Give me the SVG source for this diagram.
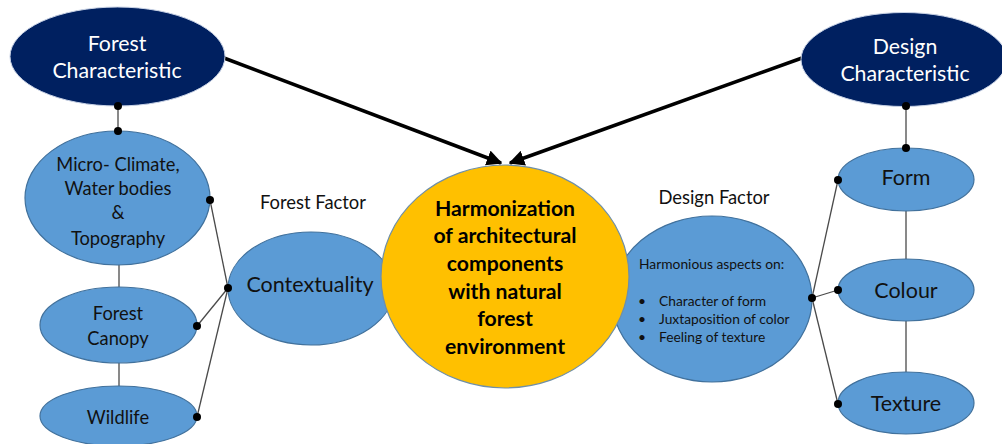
<svg xmlns="http://www.w3.org/2000/svg" width="1002" height="444" viewBox="0 0 1002 444">
  <defs>
    <style>
      text { font-family: Lato, "Open Sans", "Liberation Sans", sans-serif; text-anchor: middle; dominant-baseline: central; }
      .navy { fill: #002060; stroke: #c9d3e6; stroke-width: 1; }
      .blue { fill: #5B9BD5; stroke: #41719C; stroke-width: 1.2; }
      .core { fill: #FFC000; stroke: #6f8fa8; stroke-width: 1.2; }
      .light { fill: #ffffff; font-size: 21.3px; }
      .lbl { fill: #111111; font-size: 18.3px; }
      .big { fill: #111111; font-size: 21.5px; }
      .cap { fill: #111111; font-size: 18.4px; }
      .core-t { fill: #000000; font-size: 21.2px; font-weight: bold; }
      .small { fill: #111111; font-size: 13.8px; text-anchor: start; }
      .link { stroke: #4a4a4a; stroke-width: 1.3; fill: none; }
      .main { stroke: #000000; stroke-width: 3.5; fill: none; marker-end: url(#arrow); }
      .dot { fill: #000000; }
    </style>
    <marker id="arrow" viewBox="0 0 10 10" refX="9" refY="5" markerWidth="4.5" markerHeight="4.5" orient="auto" markerUnits="strokeWidth">
      <path d="M0,0 L10,5 L0,10 z" fill="#000000"/>
    </marker>
  </defs>
  <rect width="1002" height="444" fill="#ffffff"/>

  <!-- thin connectors and main arrows -->
  <g id="connectors">
    <line class="link" x1="118" y1="106" x2="118" y2="131"/>
    <line class="link" x1="119" y1="265" x2="119" y2="287"/>
    <line class="link" x1="119" y1="363" x2="119" y2="386"/>
    <line class="link" x1="228" y1="288" x2="210" y2="200"/>
    <line class="link" x1="228" y1="288" x2="197" y2="326"/>
    <line class="link" x1="228" y1="288" x2="197" y2="417"/>
    <line class="link" x1="906" y1="106" x2="906" y2="148"/>
    <line class="link" x1="906" y1="211" x2="906" y2="259"/>
    <line class="link" x1="906" y1="321" x2="906" y2="372"/>
    <line class="link" x1="812" y1="298" x2="838" y2="180"/>
    <line class="link" x1="812" y1="298" x2="838" y2="290"/>
    <line class="link" x1="812" y1="298" x2="838" y2="404"/>
    <line class="main" x1="224" y1="58" x2="501" y2="163"/>
    <line class="main" x1="802" y1="58" x2="510" y2="163"/>
  </g>

  <g id="forest-characteristic">
    <ellipse class="navy" cx="117.5" cy="56.5" rx="107.5" ry="49.5"/>
    <text class="light" x="117" y="43">Forest</text>
    <text class="light" x="117" y="70">Characteristic</text>
  </g>

  <g id="design-characteristic">
    <ellipse class="navy" cx="904" cy="59.5" rx="103" ry="47"/>
    <text class="light" x="905" y="46">Design</text>
    <text class="light" x="905" y="73">Characteristic</text>
  </g>

  <g id="micro-climate">
    <ellipse class="blue" cx="117.5" cy="198" rx="92.5" ry="67"/>
    <text class="lbl" x="118" y="164">Micro- Climate,</text>
    <text class="lbl" x="118" y="188">Water bodies</text>
    <text class="lbl" x="118" y="212">&amp;</text>
    <text class="lbl" x="118" y="238">Topography</text>
  </g>

  <g id="forest-canopy">
    <ellipse class="blue" cx="118.5" cy="325" rx="78.5" ry="38"/>
    <text class="lbl" x="118" y="313">Forest</text>
    <text class="lbl" x="118" y="338">Canopy</text>
  </g>

  <g id="wildlife">
    <ellipse class="blue" cx="118.5" cy="416" rx="78.5" ry="30"/>
    <text class="lbl" x="118" y="417">Wildlife</text>
  </g>

  <g id="forest-factor">
    <text class="cap" x="313" y="202">Forest Factor</text>
  </g>

  <g id="contextuality">
    <ellipse class="blue" cx="311" cy="288.5" rx="83" ry="56.5"/>
    <text class="big" x="310" y="284">Contextuality</text>
  </g>

  <g id="design-factor-label">
    <text class="cap" x="714" y="197">Design Factor</text>
  </g>

  <g id="design-factor">
    <ellipse class="blue" cx="712" cy="299" rx="100" ry="83"/>
    <text class="small" x="639" y="263">Harmonious aspects on:</text>
    <text class="small" x="638" y="300">•</text>
    <text class="small" x="659" y="300">Character of form</text>
    <text class="small" x="638" y="318">•</text>
    <text class="small" x="659" y="318">Juxtaposition of color</text>
    <text class="small" x="638" y="336">•</text>
    <text class="small" x="659" y="336">Feeling of texture</text>
  </g>

  <g id="harmonization">
    <ellipse class="core" cx="505" cy="276.5" rx="124" ry="111.5"/>
    <text class="core-t" x="505" y="208">Harmonization</text>
    <text class="core-t" x="505" y="235">of architectural</text>
    <text class="core-t" x="505" y="263">components</text>
    <text class="core-t" x="505" y="291">with natural</text>
    <text class="core-t" x="505" y="318">forest</text>
    <text class="core-t" x="505" y="346">environment</text>
  </g>

  <g id="form">
    <ellipse class="blue" cx="906" cy="179.5" rx="68" ry="31.5"/>
    <text class="big" x="906" y="177">Form</text>
  </g>

  <g id="colour">
    <ellipse class="blue" cx="906" cy="290" rx="68" ry="31"/>
    <text class="big" x="906" y="290">Colour</text>
  </g>

  <g id="texture">
    <ellipse class="blue" cx="906" cy="403" rx="68" ry="31"/>
    <text class="big" x="906" y="403">Texture</text>
  </g>

  <!-- connection points -->
  <g id="points">
    <circle class="dot" cx="118" cy="106" r="4"/>
    <circle class="dot" cx="118" cy="131" r="4"/>
    <circle class="dot" cx="210" cy="200" r="4"/>
    <circle class="dot" cx="228" cy="288" r="4"/>
    <circle class="dot" cx="197" cy="326" r="4"/>
    <circle class="dot" cx="197" cy="417" r="4"/>
    <circle class="dot" cx="906" cy="106" r="4"/>
    <circle class="dot" cx="906" cy="148" r="4"/>
    <circle class="dot" cx="838" cy="180" r="4"/>
    <circle class="dot" cx="812" cy="298" r="4"/>
    <circle class="dot" cx="838" cy="290" r="4"/>
    <circle class="dot" cx="838" cy="404" r="4"/>
  </g>
</svg>
